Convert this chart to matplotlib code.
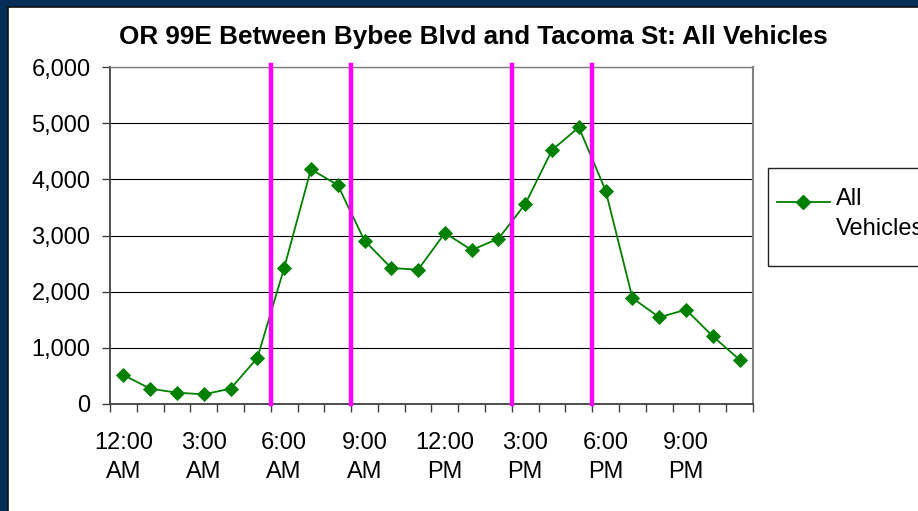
import numpy as np
import matplotlib
matplotlib.use('Agg')
from matplotlib import pyplot as plt
from matplotlib.patches import Rectangle
from matplotlib.lines import Line2D

plt.rcParams['font.family'] = ['Liberation Sans', 'DejaVu Sans']

### Data ###
TITLE = 'OR 99E Between Bybee Blvd and Tacoma St: All Vehicles'
SERIES_NAME = 'All\nVehicles'
hours = list(range(24))
volumes = [516, 273, 202, 172, 273, 819, 2421, 4178, 3899, 2908, 2421, 2392,
           3045, 2742, 2944, 3561, 4522, 4926, 3798, 1887, 1543, 1680, 1205, 789]
hour_labels = ['12:00\nAM', '3:00\nAM', '6:00\nAM', '9:00\nAM',
               '12:00\nPM', '3:00\nPM', '6:00\nPM', '9:00\nPM']
label_hours = [0, 3, 6, 9, 12, 15, 18, 21]
# peak period boundaries (hour where the period starts)
peak_bounds = [6, 9, 15, 18]
y_ticks = [0, 1000, 2000, 3000, 4000, 5000, 6000]
#############

W, H = 918, 511
NAVY = '#062f58'
GREEN = '#008000'
MAGENTA = '#ff00ff'

fig = plt.figure(figsize=(W / 100, H / 100), dpi=100, facecolor=NAVY)

# white chart area inside the navy frame
fig.patches.append(Rectangle((8 / W, -0.05), 1, 1.05 - 7 / H, transform=fig.transFigure,
                             facecolor='white', edgecolor='#111111', linewidth=1.2,
                             zorder=-1))

ax = fig.add_axes((110 / W, 1 - 404 / H, 643 / W, 337 / H))
ax.set_facecolor('white')

ax.plot(hours, volumes, color=GREEN, linewidth=1.3, marker='D', markersize=7.5,
        markeredgewidth=0.6, markeredgecolor=GREEN, zorder=3)

for b in peak_bounds:
    ax.axvline(b - 0.5, ymin=0, ymax=1.007, color=MAGENTA, linewidth=3.2,
               clip_on=False, zorder=4)

ax.set_xlim(-0.5, 23.5)
ax.set_ylim(0, 6000)

# tick marks sit on category boundaries, labels on every third category
ax.set_xticks(np.arange(-0.5, 24, 1))
ax.set_xticklabels([])
ax.set_xticks(label_hours, minor=True)
ax.set_xticklabels(hour_labels, minor=True, fontsize=17, linespacing=1.45)
ax.tick_params(axis='x', which='major', direction='out', length=6, width=1,
               color='#404040')
ax.tick_params(axis='x', which='minor', length=0, pad=20)

ax.set_yticks(y_ticks)
ax.set_yticklabels([f'{v:,}' for v in y_ticks], fontsize=17)
ax.tick_params(axis='y', direction='out', length=6, width=1, color='#404040', pad=8)

ax.grid(axis='y', color='black', linewidth=0.8, zorder=1)
ax.set_axisbelow(True)

for side in ('left', 'bottom'):
    ax.spines[side].set_color('#404040')
    ax.spines[side].set_linewidth(1.3)
ax.spines['right'].set_color('#808080')
ax.spines['right'].set_linewidth(1.5)
ax.spines['top'].set_color('#808080')
ax.spines['top'].set_linewidth(1.0)

fig.text(473 / W, 1 - 37 / H, TITLE, ha='center', va='center',
         fontsize=18.8, fontweight='bold')

# legend box, running off the right edge
fig.patches.append(Rectangle((768 / W, 1 - 266 / H), 200 / W, 98 / H,
                             transform=fig.transFigure, facecolor='white',
                             edgecolor='#222222', linewidth=1.0, zorder=2))
fig.lines.append(Line2D([777 / W, 830 / W], [1 - 202 / H, 1 - 202 / H],
                        transform=fig.transFigure, color=GREEN, linewidth=1.3,
                        zorder=3))
fig.lines.append(Line2D([803 / W], [1 - 202 / H], transform=fig.transFigure,
                        color=GREEN, marker='D', markersize=7.5, zorder=3))
fig.text(836 / W, 1 - 188 / H, SERIES_NAME, ha='left', va='top', fontsize=17,
         linespacing=1.45, zorder=3)

fig.savefig('out.png', dpi=100, facecolor=fig.get_facecolor())
